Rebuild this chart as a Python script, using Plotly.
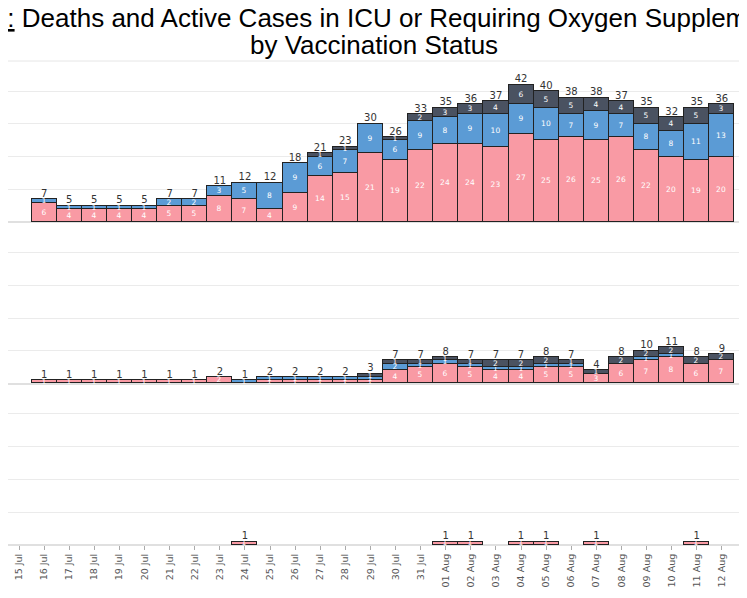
import plotly.graph_objects as go
from plotly.subplots import make_subplots

dates = ["2021-07-16", "2021-07-17", "2021-07-18", "2021-07-19", "2021-07-20",
         "2021-07-21", "2021-07-22", "2021-07-23", "2021-07-24", "2021-07-25",
         "2021-07-26", "2021-07-27", "2021-07-28", "2021-07-29", "2021-07-30",
         "2021-07-31", "2021-08-01", "2021-08-02", "2021-08-03", "2021-08-04",
         "2021-08-05", "2021-08-06", "2021-08-07", "2021-08-08", "2021-08-09",
         "2021-08-10", "2021-08-11", "2021-08-12"]

# Panel 1
icu_unvax   = [6, 4, 4, 4, 4, 5, 5, 8, 7, 4, 9, 14, 15, 21, 19, 22, 24, 24, 23, 27, 25, 26, 25, 26, 22, 20, 19, 20]
icu_partial = [1, 1, 1, 1, 1, 2, 2, 3, 5, 8, 9, 6, 7, 9, 6, 9, 8, 9, 10, 9, 10, 7, 9, 7, 8, 8, 11, 13]
icu_full    = [0, 0, 0, 0, 0, 0, 0, 0, 0, 0, 0, 1, 1, 0, 1, 2, 3, 3, 4, 6, 5, 5, 4, 4, 5, 4, 5, 3]

# Panel 2
mid_unvax   = [1, 1, 1, 1, 1, 1, 1, 2, 0, 1, 1, 1, 1, 1, 4, 5, 6, 5, 4, 4, 5, 5, 3, 6, 7, 8, 6, 7]
mid_partial = [0, 0, 0, 0, 0, 0, 0, 0, 1, 1, 1, 1, 1, 1, 2, 1, 1, 1, 1, 1, 1, 1, 0, 0, 1, 1, 0, 0]
mid_full    = [0, 0, 0, 0, 0, 0, 0, 0, 0, 0, 0, 0, 0, 1, 1, 1, 1, 1, 2, 2, 2, 1, 1, 2, 2, 2, 2, 2]

# Panel 3 (deaths)
death_unvax   = [0, 0, 0, 0, 0, 0, 0, 0, 1, 0, 0, 0, 0, 0, 0, 0, 1, 1, 0, 1, 1, 0, 1, 0, 0, 0, 1, 0]
death_partial = [0] * 28
death_full    = [0] * 28

status_names = ["Unvaccinated", "Partially vaccinated", "Fully vaccinated"]
status_colors = ["#F99AA4", "#5B9BD5", "#4A5261"]

TITLE_L1 = "<u>E:</u> Deaths and Active Cases in ICU or Requiring Oxygen Supplementation"
TITLE_L2 = "by Vaccination Status"

panels = [
    (icu_unvax, icu_partial, icu_full),
    (mid_unvax, mid_partial, mid_full),
    (death_unvax, death_partial, death_full),
]

fig = make_subplots(rows=3, cols=1, shared_xaxes=True, vertical_spacing=0)

DAY = 86400000
for r, series in enumerate(panels, start=1):
    for vals, name, col in zip(series, status_names, status_colors):
        if not any(vals):
            continue
        fig.add_trace(go.Bar(
            x=dates, y=[v if v else None for v in vals],
            text=[str(v) if v else "" for v in vals],
            textposition="inside", insidetextanchor="middle", textangle=0,
            textfont=dict(color="white", size=7.5, family="DejaVu Sans"),
            marker=dict(color=col, line=dict(color="#222222", width=1)),
            width=DAY, name=name, showlegend=False, hoverinfo="skip",
        ), row=r, col=1)
    totals = [a + b + c for a, b, c in zip(*series)]
    fig.add_trace(go.Scatter(
        x=[d for d, t in zip(dates, totals) if t],
        y=[t for t in totals if t],
        text=[str(t) for t in totals if t],
        mode="text", textposition="top center",
        textfont=dict(color="#333333", size=10, family="DejaVu Sans"),
        cliponaxis=False, showlegend=False, hoverinfo="skip",
    ), row=r, col=1)

for r in (1, 2, 3):
    fig.update_yaxes(range=[0, 49.2], dtick=10, showgrid=True, gridcolor="#EBEBEB",
                     gridwidth=1, zeroline=True, zerolinecolor="#E0E0E0",
                     showticklabels=False, ticks="", row=r, col=1)
    fig.update_xaxes(type="date", range=["2021-07-14 13:29", "2021-08-13 07:40"],
                     showgrid=False, zeroline=False, automargin=False, row=r, col=1)

fig.update_xaxes(tickformat="%d %b", dtick=DAY, tick0="2021-07-15", tickangle=-90,
                 ticks="outside", ticklen=4, tickcolor="#AAAAAA",
                 tickfont=dict(family="DejaVu Sans", size=9.5, color="#555555"),
                 row=3, col=1)

fig.add_shape(type="line", xref="paper", yref="paper", x0=0, x1=1, y0=1, y1=1,
              line=dict(color="#E6E6E6", width=1))

PLOT_H = 484
fig.add_annotation(text=TITLE_L1, xref="paper", yref="paper", x=-20 / 747, y=1 + (53 - 10.5) / PLOT_H,
                   xanchor="left", yanchor="middle", showarrow=False,
                   font=dict(family="Liberation Sans", size=26, color="black"))
fig.add_annotation(text=TITLE_L2, xref="paper", yref="paper", x=366 / 747, y=1 + (53 - 37) / PLOT_H,
                   xanchor="center", yanchor="middle", showarrow=False,
                   font=dict(family="Liberation Sans", size=26, color="black"))

fig.update_layout(
    width=747, height=598, barmode="stack", bargap=0,
    margin=dict(l=0, r=0, t=53, b=61, autoexpand=False),
    paper_bgcolor="white", plot_bgcolor="white",
    uniformtext=dict(mode="show", minsize=7.5),
    showlegend=False,
)

fig.write_html("out.html")
